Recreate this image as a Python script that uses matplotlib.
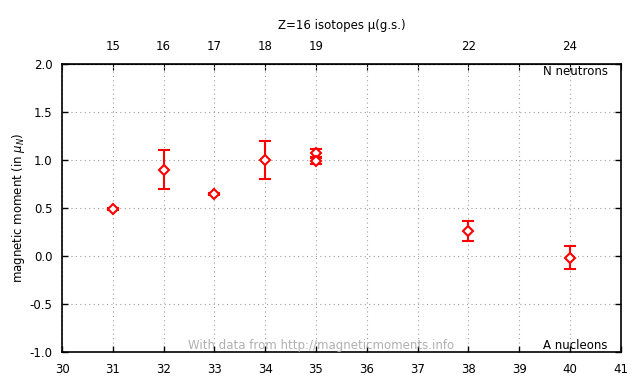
import matplotlib
matplotlib.use("Agg")
import matplotlib.pyplot as plt

# nucleon number A, magnetic moment and uncertainty
a_nucleons = [31, 32, 33, 34, 35, 35, 38, 40]
moment = [0.49, 0.90, 0.645, 1.00, 1.07, 0.99, 0.26, -0.02]
moment_err = [0.01, 0.20, 0.01, 0.20, 0.04, 0.03, 0.105, 0.12]

# neutron numbers shown on the top axis
top_ticks = [31, 32, 33, 34, 35, 38, 40]
top_labels = ['15', '16', '17', '18', '19', '22', '24']

plt.rcParams['font.family'] = ['DejaVu Sans']
plt.rcParams['font.size'] = 8.5

fig = plt.figure(figsize=(6.4, 3.84), dpi=100)
ax = fig.add_axes([0.097, 0.0833, 0.873, 0.75])

ax.errorbar(a_nucleons, moment, yerr=moment_err, fmt='D', color='red',
            markerfacecolor='white', markeredgecolor='red', markersize=5,
            markeredgewidth=1.5, elinewidth=1.5, capsize=4, capthick=1.5)

ax.set_xlim(30, 41)
ax.set_ylim(-1.0, 2.0)
ax.set_xticks(range(30, 42))
ax.set_yticks([-1.0, -0.5, 0.0, 0.5, 1.0, 1.5, 2.0])
ax.set_yticklabels(['-1.0', '-0.5', '0.0', '0.5', '1.0', '1.5', '2.0'])
ax.grid(True, color='#a0a0a0', linestyle=(0, (1, 3)), linewidth=0.8)
ax.tick_params(direction='in', length=4, right=True, width=1)
ax.tick_params(axis='x', pad=8)
ax.tick_params(axis='y', pad=7)
for s in ax.spines.values():
    s.set_linewidth(1.2)

ax.set_ylabel('magnetic moment (in $\\mu_N$)', labelpad=2)

# top axis: neutron numbers
top = ax.secondary_xaxis('top')
top.set_xticks(list(range(30, 42)))
lab = {t: l for t, l in zip(top_ticks, top_labels)}
top.set_xticklabels([lab.get(t, '') for t in range(30, 42)])
top.tick_params(direction='in', length=4, pad=8)
top.set_xlabel('Z=16 isotopes \u03bc(g.s.)', labelpad=8)

ax.text(0.977, 0.995, 'N neutrons', transform=ax.transAxes, ha='right', va='top')
ax.text(0.977, 0.0, 'A nucleons', transform=ax.transAxes, ha='right', va='bottom')
ax.text(0.463, 0.0, 'With data from http://magneticmoments.info', transform=ax.transAxes,
        ha='center', va='bottom', color='#b0b0b0')

fig.savefig('out.png', dpi=100)
